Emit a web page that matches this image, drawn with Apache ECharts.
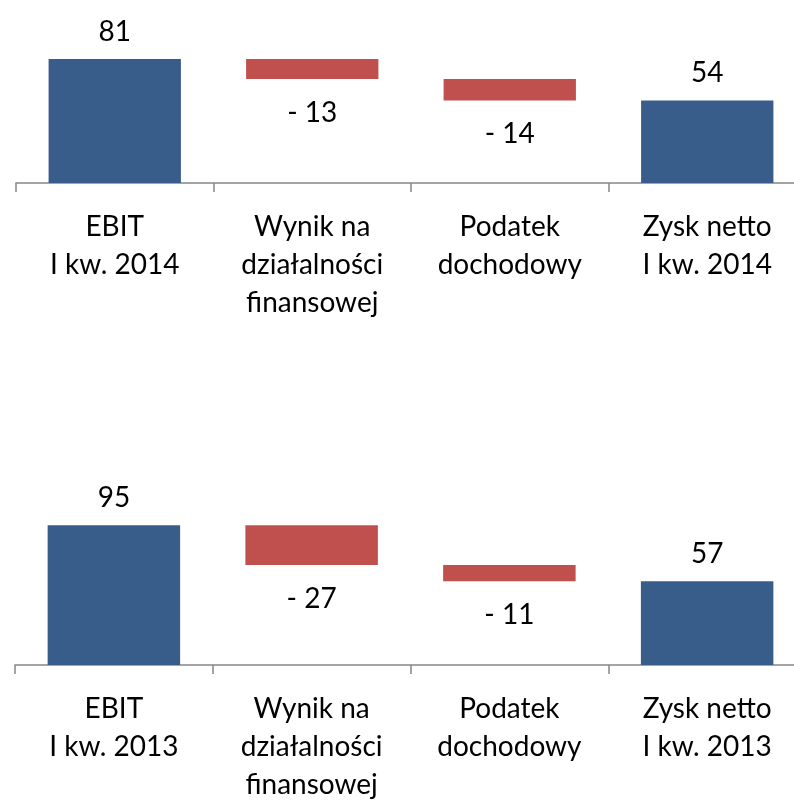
<!DOCTYPE html>
<html>
<head>
<meta charset="utf-8">
<script src="https://cdn.jsdelivr.net/npm/echarts@6/dist/echarts.min.js"></script>
<style>
  html, body { margin: 0; padding: 0; background: #fff; overflow: hidden; }
  /* obszar wykresu wychodzi poza prawą krawędź okna, jak w oryginale */
  #chart { width: 808px; height: 804px; }
</style>
</head>
<body>
<div id="chart"></div>
<script>
// dane z wykresu (mln zł)
const categories2014 = ['EBIT\nI kw. 2014', 'Wynik na\ndziałalności\nfinansowej', 'Podatek\ndochodowy', 'Zysk netto\nI kw. 2014'];
const categories2013 = ['EBIT\nI kw. 2013', 'Wynik na\ndziałalności\nfinansowej', 'Podatek\ndochodowy', 'Zysk netto\nI kw. 2013'];
const values2014 = [81, -13, -14, 54];
const values2013 = [95, -27, -11, 57];
const isTotal = [true, false, false, true];

const BLUE = '#385D8A';
const RED = '#C0504D';
const FONT = 'Lato, "Open Sans", sans-serif';
const FS = 28;

// schodki: niewidoczna podstawa + widoczny słupek
function waterfall(values) {
  let running = 0;
  const base = [], visible = [];
  values.forEach((v, i) => {
    if (isTotal[i]) {
      base.push(0);
      visible.push({ value: Math.abs(v), raw: v, itemStyle: { color: BLUE } });
      running = v;
    } else {
      running += v;
      base.push(v < 0 ? running : running - v);
      visible.push({ value: Math.abs(v), raw: v, itemStyle: { color: RED } });
    }
  });
  return { base, visible };
}

function makeSeries(values, idx) {
  const w = waterfall(values);
  return [
    {
      type: 'bar', stack: 's' + idx, xAxisIndex: idx, yAxisIndex: idx,
      data: w.base, itemStyle: { color: 'transparent' }, barWidth: '67%',
      silent: true
    },
    {
      type: 'bar', stack: 's' + idx, xAxisIndex: idx, yAxisIndex: idx,
      barWidth: '67%',
      data: w.visible.map(d => ({
        value: d.value,
        itemStyle: d.itemStyle,
        label: {
          show: true,
          position: d.raw < 0 ? 'bottom' : 'top',
          distance: d.raw < 0 ? 20 : 13,
          formatter: d.raw < 0 ? '- ' + Math.abs(d.raw) : String(d.raw),
          fontSize: FS, fontFamily: FONT, color: '#000'
        }
      }))
    }
  ];
}

function xAxis(cats, idx) {
  return {
    type: 'category', gridIndex: idx, data: cats,
    axisLine: { lineStyle: { color: '#868686', width: 1.5 } },
    axisTick: { show: true, length: 9, alignWithLabel: false, interval: 0, lineStyle: { color: '#868686', width: 1.5 } },
    axisLabel: { interval: 0, margin: 25, fontSize: FS, lineHeight: 38, fontFamily: FONT, color: '#000' }
  };
}

function yAxis(idx) {
  return {
    type: 'value', gridIndex: idx, min: 0, max: 100,
    show: false, splitLine: { show: false }
  };
}

const chart = echarts.init(document.getElementById('chart'));
chart.setOption({
  animation: false,
  grid: [
    { left: 16, right: 2, top: 30, height: 153 },
    { left: 15, right: 2, top: 518, height: 153 }
  ],
  xAxis: [xAxis(categories2014, 0), xAxis(categories2013, 1)],
  yAxis: [yAxis(0), yAxis(1)],
  series: [...makeSeries(values2014, 0), ...makeSeries(values2013, 1)]
});
</script>
</body>
</html>
